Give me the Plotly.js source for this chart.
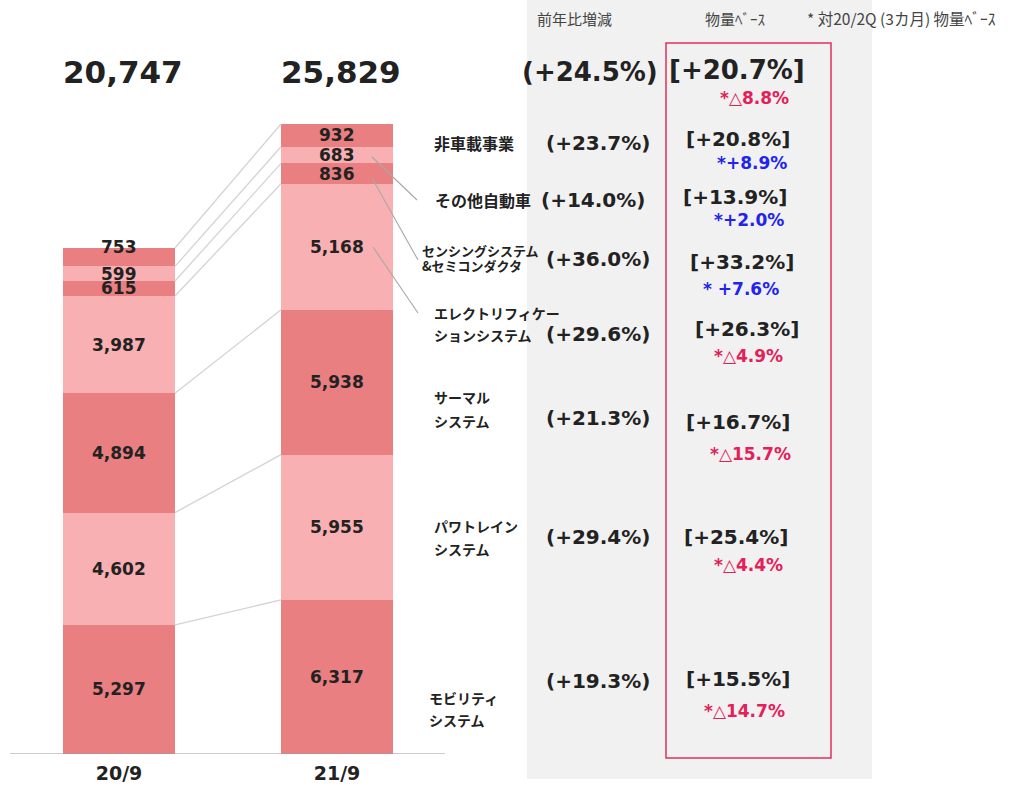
<!DOCTYPE html>
<html><head><meta charset="utf-8">
<script src="https://cdn.plot.ly/plotly-3.0.1.min.js"></script>
<style>html,body{margin:0;padding:0;background:#fff}</style>
</head><body><div id="chart" style="width:1015px;height:786px"></div>
<script>
// ---- data ----
const periods = ['20/9', '21/9'];
const segmentNames = ['モビリティシステム','パワトレインシステム','サーマルシステム','エレクトリフィケーションシステム','センシングシステム&セミコンダクタ','その他自動車','非車載事業'];
const values2009 = [5297, 4602, 4894, 3987, 615, 599, 753];
const values2109 = [6317, 5955, 5938, 5168, 836, 683, 932];
const rowLabels = ['モビリティ<br>システム','パワトレイン<br>システム','サーマル<br>システム','エレクトリフィケー<br>ションシステム','センシングシステム<br>&セミコンダクタ','その他自動車','非車載事業'];
const yoyChange = ['+19.3%','+29.4%','+21.3%','+29.6%','+36.0%','+14.0%','+23.7%'];
const volumeChange = ['+15.5%','+25.4%','+16.7%','+26.3%','+33.2%','+13.9%','+20.8%'];
const vs2QChange = ['△14.7%','△4.4%','△15.7%','△4.9%',' +7.6%','+2.0%','+8.9%'];
const totalYoy = '+24.5%';
const totalVolume = '+20.7%';
const totalVs2Q = '△8.8%';
const headers = ['前年比増減', '物量ﾍﾞｰｽ', '* 対20/2Q (3カ月) 物量ﾍﾞｰｽ'];

// ---- styles / positions ----
const W = 1015, H = 786, MT = 4, MB = 32;
const PH = H - MT - MB;
const pxPerUnit = 0.02439;
const yMax = PH / pxPerUnit;
const barCenterPx = [119, 337], unitPx = 218;
const barW = 112 / unitPx;
const darkC = '#E97F80', lightC = '#F8B0B2';
const NUM = 'DejaVu Sans, Verdana, sans-serif';
const JP = 'Noto Sans CJK JP, sans-serif';
const RED = '#E3205A', BLUE = '#2323EE', INK = '#222222';
const px2x = p => p / W;
const py2y = p => (H - MB - p) / PH;

const traces = [];
segmentNames.forEach((name, i) => {
  traces.push({
    type: 'bar', name: name, x: [0, 1], y: [values2009[i], values2109[i]],
    width: barW, marker: {color: i % 2 === 0 ? darkC : lightC, line: {width: 0}},
    hoverinfo: 'skip', showlegend: false
  });
});
// connector lines between cumulative tops
let c0 = 0, c1 = 0;
const cum0 = [], cum1 = [];
segmentNames.forEach((n, i) => { c0 += values2009[i]; c1 += values2109[i]; cum0.push(c0); cum1.push(c1); });
cum0.forEach((v, i) => {
  traces.push({type: 'scatter', mode: 'lines', x: [barW / 2, 1 - barW / 2], y: [v, cum1[i]],
    line: {color: '#D3D3D3', width: 1.3}, hoverinfo: 'skip', showlegend: false});
});

const ann = [];
const fmt = v => v.toLocaleString('en-US');
function pAnn(px, py, text, font, xa) {
  ann.push({xref: 'paper', yref: 'paper', x: px2x(px), y: py2y(py), xanchor: xa || 'center', yanchor: 'middle',
    text: text, showarrow: false, font: font});
}
// value labels
[values2009, values2109].forEach((vals, b) => {
  let base = 0;
  vals.forEach((v, i) => {
    const shift = (b === 0 && i === vals.length - 1) ? 10 : 0;
    ann.push({xref: 'x', yref: 'y', x: b, y: base + v / 2, text: fmt(v), showarrow: false,
      xanchor: 'center', yanchor: 'middle', yshift: shift,
      font: {family: NUM, size: 17, color: INK, weight: 'bold'}});
    base += v;
  });
});
// totals
[cum0[cum0.length - 1], cum1[cum1.length - 1]].forEach((t, b) => {
  ann.push({xref: 'x', yref: 'paper', x: b + 0.02, y: py2y(72), xanchor: 'center', yanchor: 'middle',
    text: fmt(t), showarrow: false, font: {family: NUM, size: 31, color: INK, weight: 'bold'}});
});
// headers
const hdrX = [535, 703, 805];
headers.forEach((h, i) => pAnn(hdrX[i], 18, h, {family: JP, size: i === 2 ? 15.5 : 15, color: '#444'}, 'left'));
// total row
pAnn(590, 72, '(' + totalYoy + ')', {family: NUM, size: 26, color: INK, weight: 'bold'});
pAnn(737, 70, '[' + totalVolume + ']', {family: NUM, size: 26, color: INK, weight: 'bold'});
pAnn(754, 98, '*' + totalVs2Q, {family: NUM, size: 17, color: RED, weight: 'bold'});

// rows
const labelX = [427, 432, 432, 432, 420, 433, 432];
const labelY = [709, 537, 409, 324, 258, 200, 143];
const labelGap = [22, 23, 24, 22, 15, 0, 0];
const labelSize = [14, 14, 14, 14, 13, 16, 16];
const yoyX = [598, 598, 598, 598, 598, 593, 598];
const yoyY = [681, 537, 418, 334, 259, 200, 143];
const volX = [738, 736, 738, 747, 742, 735, 738];
const volY = [679, 537, 422, 329, 262, 197, 139];
const subX = [744, 748, 750, 748, 741, 749, 752];
const subY = [711, 565, 454, 356, 289, 220, 163];
rowLabels.forEach((lab, i) => {
  const lines = lab.split('<br>');
  lines.forEach((ln, k) => {
    const y = labelY[i] + (k - (lines.length - 1) / 2) * labelGap[i];
    pAnn(labelX[i], y, ln, {family: JP, size: labelSize[i], color: INK, weight: 'bold'}, 'left');
  });
  pAnn(yoyX[i], yoyY[i], '(' + yoyChange[i] + ')', {family: NUM, size: 20, color: INK, weight: 'bold'});
  pAnn(volX[i], volY[i], '[' + volumeChange[i] + ']', {family: NUM, size: 20, color: INK, weight: 'bold'});
  const neg = vs2QChange[i].indexOf('△') >= 0;
  pAnn(subX[i], subY[i], '*' + vs2QChange[i], {family: NUM, size: 17, color: neg ? RED : BLUE, weight: 'bold'});
});

const shapes = [
  {type: 'rect', xref: 'paper', yref: 'paper', x0: px2x(527), x1: px2x(872), y0: py2y(779), y1: py2y(0),
    fillcolor: '#F1F1F1', line: {width: 0}, layer: 'below'},
  {type: 'rect', xref: 'paper', yref: 'paper', x0: px2x(666), x1: px2x(831), y0: py2y(758), y1: py2y(43),
    fillcolor: 'rgba(0,0,0,0)', line: {color: '#E0305E', width: 1.5}},
  {type: 'line', xref: 'x', yref: 'y', x0: -0.5, x1: 1.495, y0: 0, y1: 0, line: {color: '#9A9A9A', width: 1.2}}
];
const leaders = [[372, 157, 417, 200], [372, 178, 418, 260], [373, 247, 418, 313]];
leaders.forEach(l => shapes.push({type: 'line', xref: 'paper', yref: 'paper', x0: px2x(l[0]), y0: py2y(l[1]),
  x1: px2x(l[2]), y1: py2y(l[3]), line: {color: '#A8A8A8', width: 1.1}}));

const layout = {
  width: W, height: H, margin: {l: 0, r: 0, t: MT, b: MB, autoexpand: false},
  paper_bgcolor: '#fff', plot_bgcolor: 'rgba(0,0,0,0)', barmode: 'stack', bargap: 0,
  showlegend: false,
  xaxis: {range: [-barCenterPx[0] / unitPx, (W - barCenterPx[0]) / unitPx], tickvals: [0, 1], ticktext: periods,
    showgrid: false, zeroline: false, showline: false, ticks: '', automargin: false, ticklabelstandoff: 6,
    tickfont: {family: NUM, size: 19, color: INK, weight: 'bold'}, fixedrange: true},
  yaxis: {range: [0, yMax], visible: false, fixedrange: true},
  shapes: shapes, annotations: ann
};
Plotly.newPlot('chart', traces, layout, {displayModeBar: false, staticPlot: true});
</script></body></html>
